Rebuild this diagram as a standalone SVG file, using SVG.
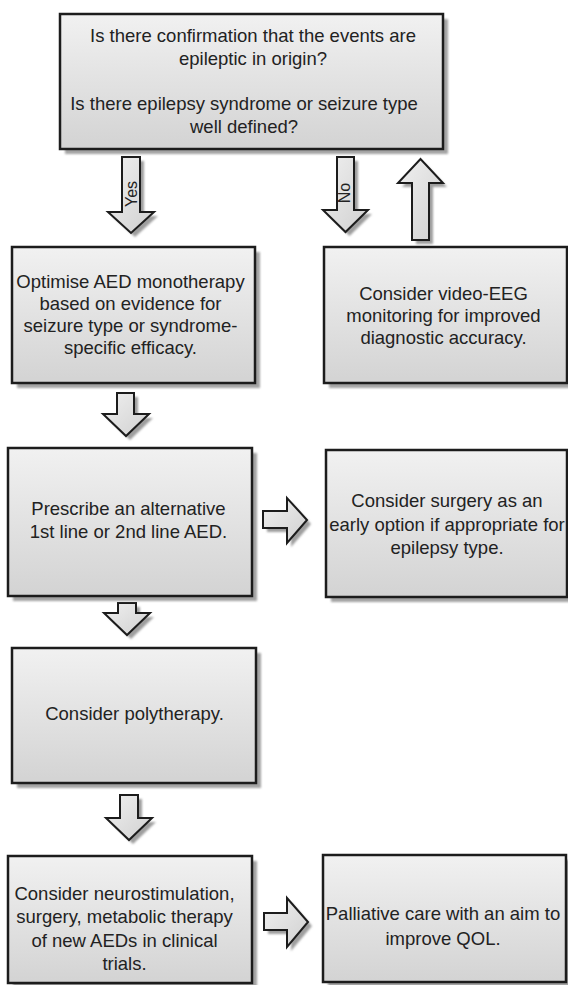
<svg xmlns="http://www.w3.org/2000/svg" width="568" height="985" viewBox="0 0 568 985">
<style>
.box{fill:url(#boxGrad);stroke:#1c1c1c;stroke-width:2.5}
.shadow{fill:#a3a3a3;filter:url(#soft)}
.arr{fill:url(#arrGrad);stroke:#1c1c1c;stroke-width:2;stroke-linejoin:miter}
.ashadow{fill:#9e9e9e;filter:url(#soft)}
text{font-family:"Liberation Sans",Arial,sans-serif;font-size:18.5px;fill:#222;text-anchor:middle}
.lbl{font-size:16px}
</style>
<defs>
<linearGradient id="boxGrad" x1="0" y1="0" x2="0" y2="1">
<stop offset="0" stop-color="#f1f1f1"/>
<stop offset="1" stop-color="#d3d3d3"/>
</linearGradient>
<linearGradient id="arrGrad" x1="0" y1="0" x2="1" y2="1">
<stop offset="0" stop-color="#f0f0f0"/>
<stop offset="1" stop-color="#d0d0d0"/>
</linearGradient>
<filter id="soft" x="-10%" y="-10%" width="120%" height="120%">
<feGaussianBlur stdDeviation="0.8"/>
</filter>
</defs>
<rect width="568" height="985" fill="#fff"/>

<g id="connectors">
<g transform="translate(4,4)">
<polygon class="ashadow" points="122,157 140,157 140,212 154,212 131,233 108,212 122,212"/>
<polygon class="ashadow" points="337,157 354,157 354,210 368,210 345.5,232 323,210 337,210"/>
<polygon class="ashadow" points="412,240 429,240 429,183 443,183 420.5,159 398,183 412,183"/>
<polygon class="ashadow" points="117,393 134,393 134,414 149,414 126,436 103,414 117,414"/>
<polygon class="ashadow" points="118,603 136,603 136,613 150,613 127,635 104,613 118,613"/>
<polygon class="ashadow" points="120,795 138,795 138,818 152,818 129,840 106,818 120,818"/>
<polygon class="ashadow" points="263,511 287,511 287,498 307,520 287,543 287,528 263,528"/>
<polygon class="ashadow" points="264,913 287,913 287,898 308,922 287,947 287,930 264,930"/>
</g>
<polygon id="arrow-yes" class="arr" points="122,157 140,157 140,212 154,212 131,233 108,212 122,212"/>
<text class="lbl" transform="translate(136.5,194) rotate(-90)">Yes</text>
<polygon id="arrow-no" class="arr" points="337,157 354,157 354,210 368,210 345.5,232 323,210 337,210"/>
<text class="lbl" transform="translate(349.5,193) rotate(-90)">No</text>
<polygon id="arrow-back" class="arr" points="412,240 429,240 429,183 443,183 420.5,159 398,183 412,183"/>
<polygon id="arrow-2-4" class="arr" points="117,393 134,393 134,414 149,414 126,436 103,414 117,414"/>
<polygon id="arrow-4-6" class="arr" points="118,603 136,603 136,613 150,613 127,635 104,613 118,613"/>
<polygon id="arrow-6-7" class="arr" points="120,795 138,795 138,818 152,818 129,840 106,818 120,818"/>
<polygon id="arrow-4-5" class="arr" points="263,511 287,511 287,498 307,520 287,543 287,528 263,528"/>
<polygon id="arrow-7-8" class="arr" points="264,913 287,913 287,898 308,922 287,947 287,930 264,930"/>
</g>

<g id="node-question">
<rect class="shadow" x="65" y="19" width="383" height="135"/>
<rect class="box" x="60" y="14" width="383" height="135"/>
<text x="253" y="42">Is there confirmation that the events are</text>
<text x="253" y="65">epileptic in origin?</text>
<text x="244" y="110">Is there epilepsy syndrome or seizure type</text>
<text x="244" y="133">well defined?</text>
</g>

<g id="node-optimise">
<rect class="shadow" x="17" y="252" width="243" height="136"/>
<rect class="box" x="12" y="247" width="243" height="136"/>
<text x="130.5" y="288">Optimise AED monotherapy</text>
<text x="130.5" y="310">based on evidence for</text>
<text x="130.5" y="332">seizure type or syndrome-</text>
<text x="130.5" y="354">specific efficacy.</text>
</g>

<g id="node-video-eeg">
<rect class="shadow" x="329" y="252" width="243" height="136"/>
<rect class="box" x="324" y="247" width="243" height="136"/>
<text x="443.5" y="300">Consider video-EEG</text>
<text x="443.5" y="322">monitoring for improved</text>
<text x="443.5" y="344">diagnostic accuracy.</text>
</g>

<g id="node-prescribe">
<rect class="shadow" x="13" y="453" width="244" height="148"/>
<rect class="box" x="8" y="448" width="244" height="148"/>
<text x="128.5" y="515">Prescribe an alternative</text>
<text x="128.5" y="538">1st line or 2nd line AED.</text>
</g>

<g id="node-surgery">
<rect class="shadow" x="331" y="455" width="241" height="147"/>
<rect class="box" x="326" y="450" width="241" height="147"/>
<text x="447" y="507">Consider surgery as an</text>
<text x="447" y="530.5">early option if appropriate for</text>
<text x="447" y="554">epilepsy type.</text>
</g>

<g id="node-polytherapy">
<rect class="shadow" x="17" y="653" width="244" height="135"/>
<rect class="box" x="12" y="648" width="244" height="135"/>
<text x="134.5" y="720">Consider polytherapy.</text>
</g>

<g id="node-neurostimulation">
<rect class="shadow" x="13" y="861" width="244" height="130"/>
<rect class="box" x="8" y="856" width="244" height="127"/>
<text x="124.5" y="899.5">Consider neurostimulation,</text>
<text x="124.5" y="923">surgery, metabolic therapy</text>
<text x="124.5" y="947">of new AEDs in clinical</text>
<text x="124.5" y="970">trials.</text>
</g>

<g id="node-palliative">
<rect class="shadow" x="328" y="860" width="243" height="130"/>
<rect class="box" x="323" y="855" width="243" height="127"/>
<text x="443" y="919.5">Palliative care with an aim to</text>
<text x="443" y="945">improve QOL.</text>
</g>
</svg>
